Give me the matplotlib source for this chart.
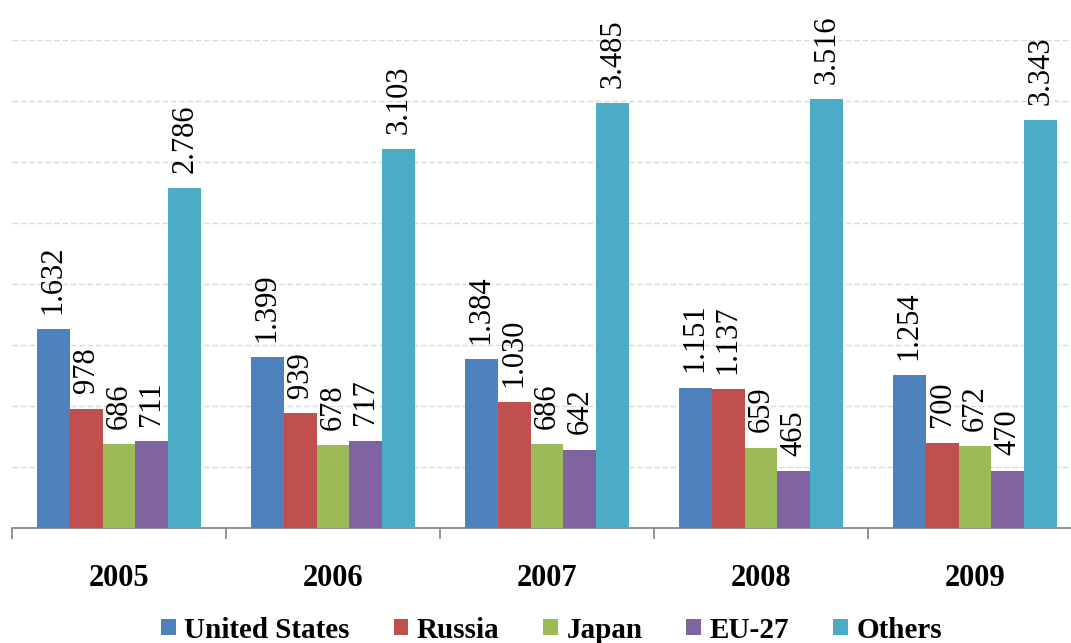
import matplotlib
matplotlib.use("Agg")
import matplotlib.pyplot as plt
import numpy as np

years = ["2005", "2006", "2007", "2008", "2009"]
series_names = ["United States", "Russia", "Japan", "EU-27", "Others"]
united_states = [1632, 1399, 1384, 1151, 1254]
russia = [978, 939, 1030, 1137, 700]
japan = [686, 678, 686, 659, 672]
eu27 = [711, 717, 642, 465, 470]
others = [2786, 3103, 3485, 3516, 3343]
colors = ["#4F81BD", "#C0504D", "#9BBB59", "#8064A2", "#4BACC6"]

all_series = [united_states, russia, japan, eu27, others]

plt.rcParams['font.family'] = ['Liberation Serif', 'DejaVu Serif']

fig = plt.figure(figsize=(10.71, 6.43), dpi=100)
ax = fig.add_axes([12/1071, 1-528/643, 1070/1071, (528-40)/643])

x = np.arange(len(years))
w = 0.154
for i, (name, vals, c) in enumerate(zip(series_names, all_series, colors)):
    pos = x + (i - 2) * w
    ax.bar(pos, vals, width=w, color=c, label=name, zorder=3)
    for xp, v in zip(pos, vals):
        ax.annotate(f"{v:,}".replace(",", "."), (xp, v), xytext=(0, 11),
                    textcoords="offset points", rotation=90, ha="center",
                    va="bottom", fontsize=22, zorder=4)

ax.set_xlim(-0.5, len(years) - 0.5)
ax.set_ylim(0, 4000)
ax.set_yticks(np.arange(500, 4001, 500))
ax.yaxis.grid(True, color="#d9d9d9", linestyle=(0, (4, 2)), linewidth=1, zorder=0)
ax.tick_params(axis="y", left=False, labelleft=False)

for s in ["top", "right", "left"]:
    ax.spines[s].set_visible(False)
ax.spines["bottom"].set_color("#808080")
ax.spines["bottom"].set_linewidth(1.2)

ax.set_xticks(np.arange(-0.5, len(years), 1.0))
ax.set_xticklabels([])
ax.tick_params(axis="x", which="major", length=8, color="#808080", width=1.2)
ax.set_xticks(x, minor=True)
ax.set_xticklabels(years, minor=True, fontsize=22, fontweight="bold")
ax.tick_params(axis="x", which="minor", length=0, pad=26)

fig.legend(loc="center", bbox_to_anchor=(0.515, 1 - 630/643), ncol=5,
           frameon=False, prop={"size": 21, "weight": "bold"},
           handlelength=0.5, handleheight=0.5, handletextpad=0.3,
           columnspacing=1.5)

fig.savefig("out.png", dpi=100)
